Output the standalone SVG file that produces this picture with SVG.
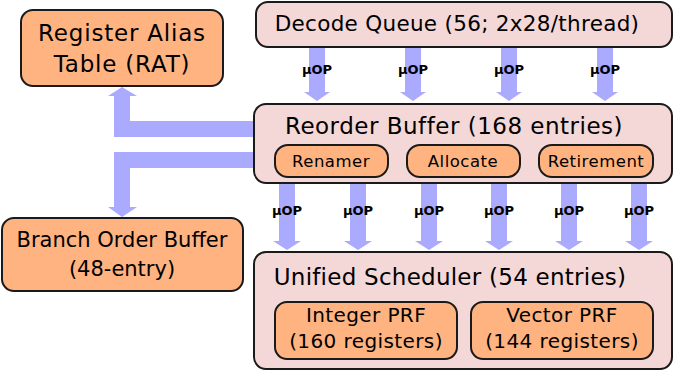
<svg xmlns="http://www.w3.org/2000/svg" width="675" height="371" viewBox="0 0 675 371">
  <defs>
    <style>
      .box { stroke: #1a1a1a; stroke-width: 2; }
      .outer { fill: #f4d7d7; }
      .inner { fill: #ffb380; }
      .flow { fill: #aaaaff; stroke: none; }
      text { font-family: "DejaVu Sans", "Liberation Sans", sans-serif; fill: #000; text-anchor: middle; }
      .rat { font-size: 23px; letter-spacing: 0.8px; }
      .dq { font-size: 21.5px; letter-spacing: 0.3px; }
      .rob { font-size: 23px; letter-spacing: 0.5px; }
      .us { font-size: 23px; letter-spacing: 0.25px; }
      .bob { font-size: 21px; }
      .prf { font-size: 20px; letter-spacing: 0.4px; }
      .stage { font-size: 16.5px; letter-spacing: 0.5px; }
      .uop { font-size: 13px; font-weight: bold; }
    </style>
  </defs>

  <!-- connectors: wide block arrows -->
  <g id="connectors">
    <!-- Decode Queue -> Reorder Buffer -->
    <path class="flow" d="M309,47 V92 H304 L317,101 L330,92 H325 V47 Z"/>
    <path class="flow" d="M405,47 V92 H400 L413,101 L426,92 H421 V47 Z"/>
    <path class="flow" d="M501,47 V92 H496 L509,101 L522,92 H517 V47 Z"/>
    <path class="flow" d="M597,47 V92 H592 L605,101 L618,92 H613 V47 Z"/>
    <!-- Reorder Buffer -> Unified Scheduler -->
    <path class="flow" d="M279,183 V241 H273 L287,250 L301,241 H295 V183 Z"/>
    <path class="flow" d="M350,183 V241 H344 L358,250 L372,241 H366 V183 Z"/>
    <path class="flow" d="M421,183 V241 H415 L429,250 L443,241 H437 V183 Z"/>
    <path class="flow" d="M491,183 V241 H485 L499,250 L513,241 H507 V183 Z"/>
    <path class="flow" d="M561,183 V241 H555 L569,250 L583,241 H577 V183 Z"/>
    <path class="flow" d="M631,183 V241 H625 L639,250 L653,241 H647 V183 Z"/>
    <!-- Reorder Buffer -> RAT -->
    <path class="flow" d="M255,121 H130 V96 H137 L122,87 L108,96 H114 V137 H255 Z"/>
    <!-- Reorder Buffer -> Branch Order Buffer -->
    <path class="flow" d="M255,152 H114 V207 H108 L122,217 L137,207 H130 V168 H255 Z"/>
    <!-- labels -->
    <text class="uop" x="317" y="74">μOP</text>
    <text class="uop" x="413" y="74">μOP</text>
    <text class="uop" x="509" y="74">μOP</text>
    <text class="uop" x="605" y="74">μOP</text>
    <text class="uop" x="287" y="215">μOP</text>
    <text class="uop" x="358" y="215">μOP</text>
    <text class="uop" x="429" y="215">μOP</text>
    <text class="uop" x="499" y="215">μOP</text>
    <text class="uop" x="569" y="215">μOP</text>
    <text class="uop" x="639" y="215">μOP</text>
  </g>

  <g id="rat">
    <rect class="box inner" x="21" y="10" width="202" height="76" rx="12"/>
    <text class="rat" x="122" y="41">Register Alias</text>
    <text class="rat" x="122" y="72">Table (RAT)</text>
  </g>

  <g id="decode-queue">
    <rect class="box outer" x="256" y="2" width="416" height="45" rx="12"/>
    <text class="dq" x="457" y="31">Decode Queue (56; 2x28/thread)</text>
  </g>

  <g id="reorder-buffer">
    <rect class="box outer" x="254" y="104" width="418" height="79" rx="12"/>
    <text class="rob" x="454" y="134">Reorder Buffer (168 entries)</text>
  </g>

  <g id="renamer">
    <rect class="box inner" x="275" y="145" width="113" height="32" rx="13"/>
    <text class="stage" x="331" y="167">Renamer</text>
  </g>

  <g id="allocate">
    <rect class="box inner" x="407" y="145" width="113" height="32" rx="13"/>
    <text class="stage" x="463" y="167">Allocate</text>
  </g>

  <g id="retirement">
    <rect class="box inner" x="539" y="145" width="114" height="32" rx="13"/>
    <text class="stage" x="596" y="167">Retirement</text>
  </g>

  <g id="branch-order-buffer">
    <rect class="box inner" x="2" y="218" width="241" height="73" rx="12"/>
    <text class="bob" x="122" y="247">Branch Order Buffer</text>
    <text class="bob" x="122" y="276">(48-entry)</text>
  </g>

  <g id="unified-scheduler">
    <rect class="box outer" x="254" y="252" width="418" height="117" rx="12"/>
    <text class="us" x="450" y="285">Unified Scheduler (54 entries)</text>
  </g>

  <g id="integer-prf">
    <rect class="box inner" x="275" y="302" width="182" height="57" rx="12"/>
    <text class="prf" x="366" y="322">Integer PRF</text>
    <text class="prf" x="366" y="348">(160 registers)</text>
  </g>

  <g id="vector-prf">
    <rect class="box inner" x="471" y="302" width="182" height="57" rx="12"/>
    <text class="prf" x="562" y="322">Vector PRF</text>
    <text class="prf" x="562" y="348">(144 registers)</text>
  </g>
</svg>
